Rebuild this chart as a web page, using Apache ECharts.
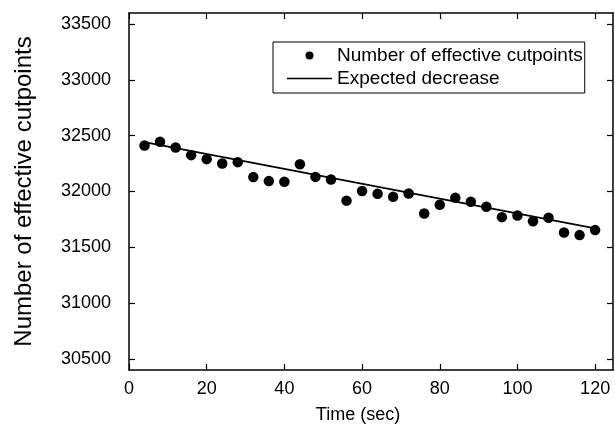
<!DOCTYPE html>
<html>
<head>
<meta charset="utf-8">
<script src="https://cdn.jsdelivr.net/npm/echarts@6/dist/echarts.min.js"></script>
<style>
  html, body { margin: 0; padding: 0; background: #fff; }
  #chart { width: 615px; height: 435px; }
</style>
</head>
<body>
<div id="chart"></div>
<script>
// time points (sec)
const times = [4, 8, 12, 16, 20, 24, 28, 32, 36, 40, 44, 48, 52, 56, 60,
  64, 68, 72, 76, 80, 84, 88, 92, 96, 100, 104, 108, 112, 116, 120];
// number of effective cutpoints
const cutpoints = [32412, 32445, 32394, 32326, 32290, 32251, 32263, 32129, 32093, 32087, 32245, 32131, 32107, 31918, 32005,
  31979, 31952, 31982, 31803, 31881, 31943, 31908, 31863, 31770, 31785, 31734, 31764, 31633, 31609, 31654];
// expected decrease line (end points)
const expectedX = [4, 120];
const expectedY = [32442, 31670];
// tick labels
const xTicks = [0, 20, 40, 60, 80, 100, 120];
const yTicks = [30500, 31000, 31500, 32000, 32500, 33000, 33500];

const font = "'Liberation Sans', Arial, sans-serif";
const chart = echarts.init(document.getElementById("chart"));

const xBase = {
  type: "value",
  min: 0,
  max: 124.6,
  splitLine: { show: false },
  axisLine: { onZero: false, lineStyle: { color: "#000", width: 1.5 } },
  axisTick: { inside: true, length: 6, customValues: xTicks, lineStyle: { color: "#000", width: 1.2 } },
};
const yBase = {
  type: "value",
  min: 30400,
  max: 33600,
  splitLine: { show: false },
  axisLine: { onZero: false, lineStyle: { color: "#000", width: 1.5 } },
  axisTick: { inside: true, length: 6, customValues: yTicks, lineStyle: { color: "#000", width: 1.2 } },
};
const labelStyle = { fontFamily: font, fontSize: 18, color: "#000" };

chart.setOption({
  animation: false,
  backgroundColor: "#fff",
  textStyle: { fontFamily: font },
  grid: { left: 129, top: 13, right: 2, bottom: 65 },
  legend: {
    orient: "vertical",
    left: 273,
    top: 42,
    padding: [4, 2, 5, 14],
    itemGap: 4,
    itemWidth: 45,
    itemHeight: 8,
    borderColor: "#000",
    borderWidth: 1,
    textStyle: { fontFamily: font, fontSize: 19, color: "#000" },
    data: [
      { name: "Number of effective cutpoints", icon: "circle" },
      {
        name: "Expected decrease",
        // thin bar with an invisible 45x8 frame so it keeps its proportions
        icon: "path://M0,0L0.01,0ZM0,3.2L45,3.2L45,4.8L0,4.8ZM45,8L44.99,8Z",
      },
    ],
  },
  xAxis: [
    Object.assign({}, xBase, {
      position: "bottom",
      name: "Time (sec)",
      nameLocation: "middle",
      nameGap: 36,
      nameTextStyle: Object.assign({ padding: [0, 26, 0, 0] }, labelStyle),
      axisLabel: Object.assign({ customValues: xTicks, margin: 10, formatter: (v) => String(v) }, labelStyle),
    }),
    Object.assign({}, xBase, { position: "top", axisLabel: { show: false } }),
  ],
  yAxis: [
    Object.assign({}, yBase, {
      position: "left",
      name: "Number of effective cutpoints",
      nameLocation: "middle",
      nameGap: 93,
      nameTextStyle: { fontFamily: font, fontSize: 24, color: "#000" },
      axisLabel: Object.assign({ customValues: yTicks, margin: 18, formatter: (v) => String(v) }, labelStyle),
    }),
    Object.assign({}, yBase, { position: "right", axisLabel: { show: false } }),
  ],
  series: [
    {
      name: "Number of effective cutpoints",
      type: "scatter",
      symbol: "circle",
      symbolSize: 10.5,
      itemStyle: { color: "#000", opacity: 1 },
      data: times.map((t, i) => [t, cutpoints[i]]),
    },
    {
      name: "Expected decrease",
      type: "line",
      symbol: "none",
      lineStyle: { color: "#000", width: 1.8 },
      itemStyle: { color: "#000" },
      data: expectedX.map((t, i) => [t, expectedY[i]]),
    },
  ],
});
</script>
</body>
</html>
